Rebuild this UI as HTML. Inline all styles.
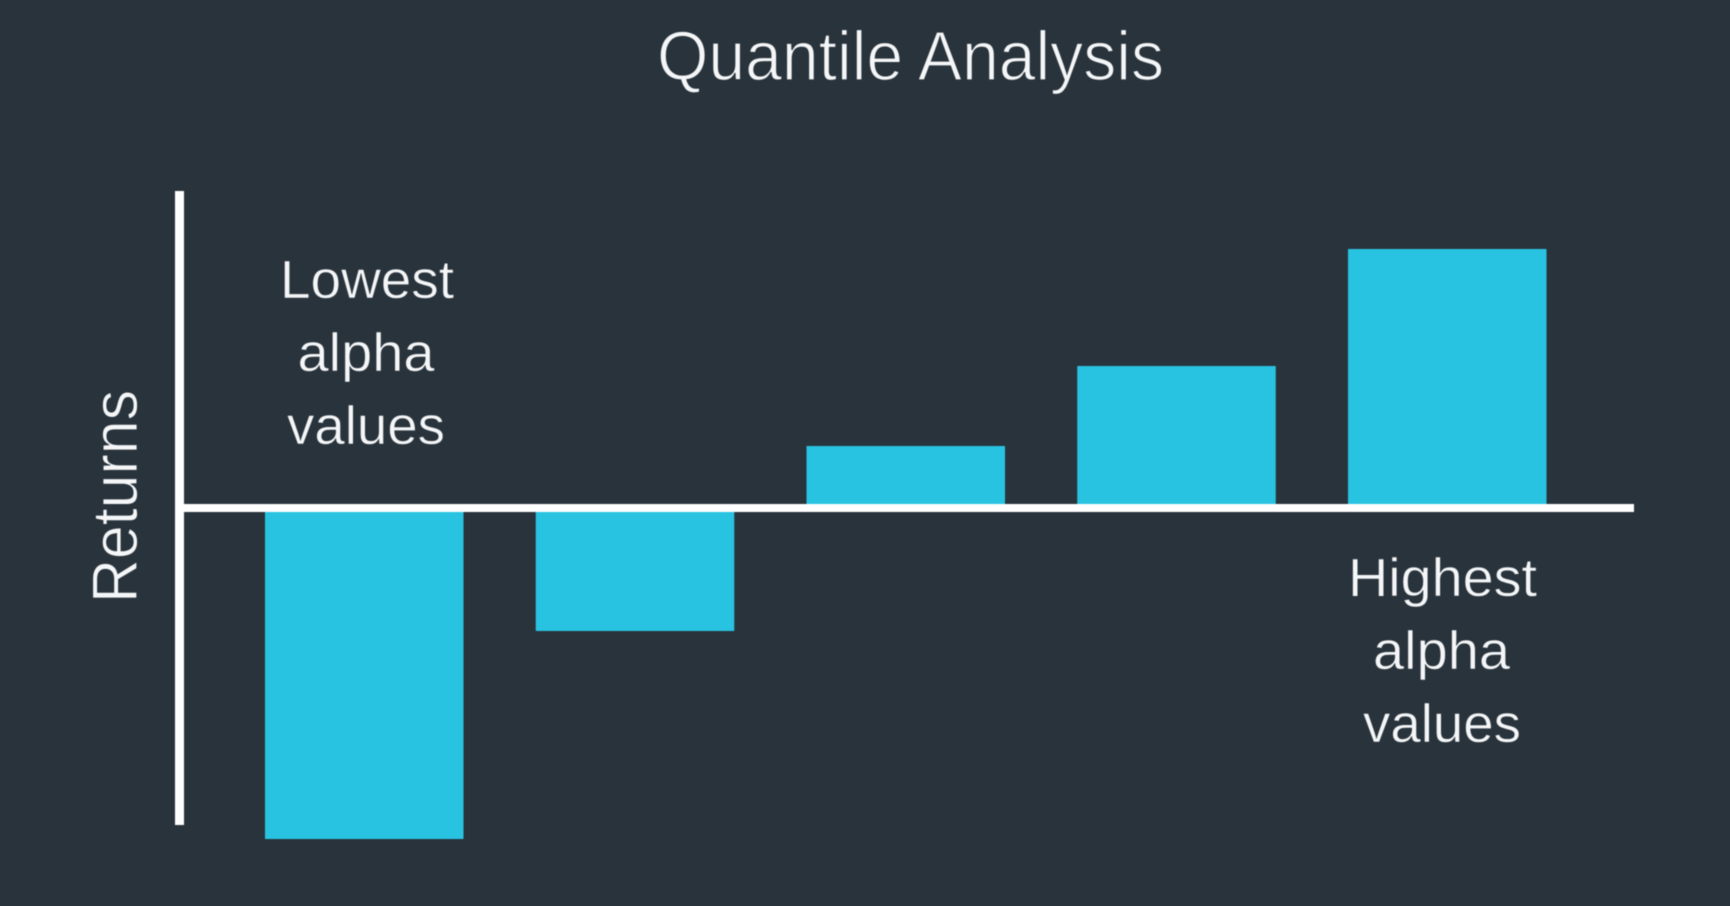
<!DOCTYPE html>
<html lang="en">
<head>
<meta charset="utf-8">
<title>Quantile Analysis</title>
<style>
  html, body { margin: 0; padding: 0; width: 1730px; height: 906px; overflow: hidden; background: #29333c; }
  svg { display: block; filter: blur(0.6px); }
  text { font-family: "Liberation Sans", "DejaVu Sans", sans-serif; fill: #f4f6f7; }
</style>
</head>
<body>
<svg id="chart" width="1730" height="906" viewBox="0 0 1730 906" xmlns="http://www.w3.org/2000/svg">
  <rect x="0" y="0" width="1730" height="906" fill="#29333c"/>
  <g id="bars"></g>
  <rect x="175" y="191" width="9" height="634" fill="#ffffff"/>
  <rect x="175" y="504" width="1459" height="8" fill="#ffffff"/>
  <text x="657" y="80" font-size="70" textLength="507" lengthAdjust="spacingAndGlyphs" stroke="#29333c" stroke-width="1.3">Quantile Analysis</text>
  <text transform="translate(137 603) rotate(-90)" x="0" y="0" font-size="64" textLength="213" lengthAdjust="spacingAndGlyphs" stroke="#29333c" stroke-width="0.8">Returns</text>
  <g>
    <text x="280" y="298" font-size="54" textLength="174" lengthAdjust="spacingAndGlyphs" stroke="#29333c" stroke-width="0.5">Lowest</text>
    <text x="297.5" y="371" font-size="54" textLength="137" lengthAdjust="spacingAndGlyphs" stroke="#29333c" stroke-width="0.5">alpha</text>
    <text x="287" y="444" font-size="54" textLength="158" lengthAdjust="spacingAndGlyphs" stroke="#29333c" stroke-width="0.5">values</text>
  </g>
  <g>
    <text x="1348" y="596" font-size="54" textLength="189" lengthAdjust="spacingAndGlyphs" stroke="#29333c" stroke-width="0.5">Highest</text>
    <text x="1373" y="669" font-size="54" textLength="137" lengthAdjust="spacingAndGlyphs" stroke="#29333c" stroke-width="0.5">alpha</text>
    <text x="1363" y="742" font-size="54" textLength="158" lengthAdjust="spacingAndGlyphs" stroke="#29333c" stroke-width="0.5">values</text>
  </g>
</svg>
<script>
const quantiles = ['q1', 'q2', 'q3', 'q4', 'q5'];
const returnsValues = [-3.31, -1.23, 0.62, 1.42, 2.59];

function xAxis(index) {
  return 265 + index * 270.75;
}
function yAxis(value) {
  return 508 - value * 100;
}

const barsGroup = document.getElementById('bars');
quantiles.forEach(function (name, i) {
  const top = Math.min(yAxis(returnsValues[i]), yAxis(0));
  const bottom = Math.max(yAxis(returnsValues[i]), yAxis(0));
  const rect = document.createElementNS('http://www.w3.org/2000/svg', 'rect');
  rect.setAttribute('x', xAxis(i));
  rect.setAttribute('y', top);
  rect.setAttribute('width', 198.5);
  rect.setAttribute('height', bottom - top);
  rect.setAttribute('fill', '#29c3e2');
  
  
  barsGroup.appendChild(rect);
});
</script>
</body>
</html>
